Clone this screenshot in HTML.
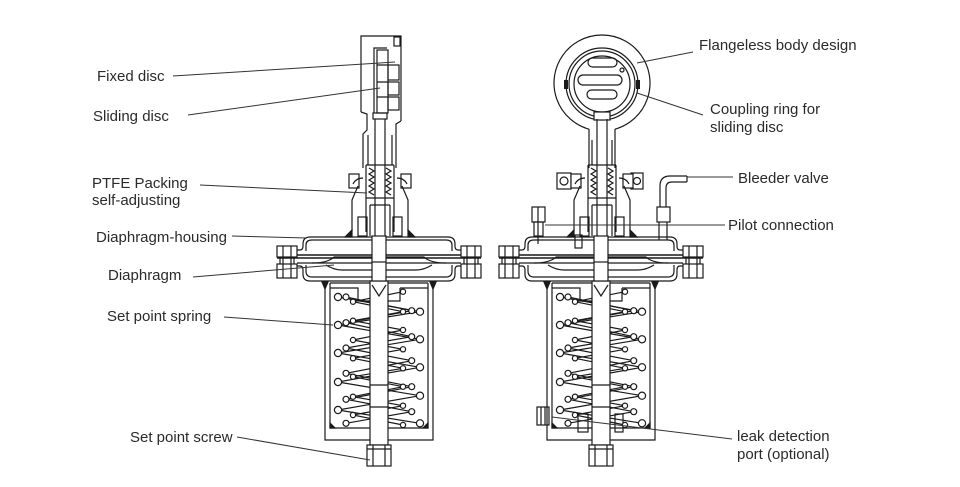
<!DOCTYPE html>
<html><head><meta charset="utf-8"><style>
html,body{margin:0;padding:0;background:#fff;}
svg{display:block;}
text{font-family:"Liberation Sans",Arial,sans-serif;font-size:15px;fill:#2a2a2a;}
</style></head><body>
<svg width="960" height="487" viewBox="0 0 960 487" xmlns="http://www.w3.org/2000/svg">
<defs>
<g id="lower" fill="none" stroke="#1a1a1a" stroke-width="1.2">
  <!-- upper dome -->
  <path d="M297,250 H300 Q303,250 303,246 V244 Q303,237 310,237 H448 Q455,237 455,244 V246 Q455,250 458,250 H461"/>
  <path d="M306,251 V245 Q306,240 312,240 H446 Q452,240 452,245 V251"/>
  <!-- flange bands -->
  <path d="M277,255 H481 M277,258 H481" stroke-width="1.5"/>
  <path d="M297,263 H461"/>
  <!-- diaphragm plate -->
  <path d="M312,263 Q328,263 334,257 H424 Q430,263 446,263"/>
  <path d="M326,265 Q334,270 342,270 H416 Q424,270 432,265"/>
  <!-- lower dome -->
  <path d="M297,266 H300 Q303,266 303,270 V274 Q303,281 310,281 H448 Q455,281 455,274 V270 Q455,266 458,266 H461"/>
  <path d="M306,265 V271 Q306,277 312,277 H446 Q452,277 452,271 V265"/>
  <!-- bolts -->
  <rect x="277" y="246" width="20" height="11" fill="#fff"/>
  <rect x="277" y="264" width="20" height="14" fill="#fff"/>
  <path d="M283,246 V278 M291,246 V278 M280,257 V264 M294,257 V264"/>
  <rect x="461" y="246" width="20" height="11" fill="#fff"/>
  <rect x="461" y="264" width="20" height="14" fill="#fff"/>
  <path d="M467,246 V278 M475,246 V278 M464,257 V264 M478,257 V264"/>
  <!-- spring housing -->
  <path d="M325,284 V440 H433 V284"/>
  <path d="M330,283 V428 H428 V283"/>
  <path d="M322,282 L328,282 L325,289 Z M430,282 L436,282 L433,289 Z" fill="#1a1a1a"/>
  <path d="M330,428 L335,428 L330,423 Z M428,428 L423,428 L428,423 Z" fill="#1a1a1a"/>
  <!-- spring seat -->
  <path d="M330,283 H370 M330,288 H358 V301 H370 M388,283 H428 M400,288 H428 M388,301 H400 V288"/>
  <!-- springs -->
  <polyline points="338,297 420,311.7 338,325 420,339.3 338,353 420,367.3 338,382 420,395.7 338,410 420,423.3"/>
  <polyline points="346,297 411.7,310.7 346,322.7 411.7,336.7 346,348 411.7,360.7 346,373.3 411.7,386.7 346,399.3 411.7,411.7 346,423.3"/>
  <polyline points="403,291.7 353,301.7 403,311.7 353,320.7 403,330 353,340 403,349.3 353,358.3 403,368.3 353,376.7 403,386.7 353,396.7 403,405.7 353,415 403,425"/>
  <g fill="#fff">
    <circle cx="338" cy="297" r="3.6"/><circle cx="338" cy="325" r="3.6"/><circle cx="338" cy="353" r="3.6"/><circle cx="338" cy="382" r="3.6"/><circle cx="338" cy="410" r="3.6"/>
    <circle cx="420" cy="311.7" r="3.6"/><circle cx="420" cy="339.3" r="3.6"/><circle cx="420" cy="367.3" r="3.6"/><circle cx="420" cy="395.7" r="3.6"/><circle cx="420" cy="423.3" r="3.6"/>
    <circle cx="346" cy="297" r="3"/><circle cx="346" cy="322.7" r="3"/><circle cx="346" cy="348" r="3"/><circle cx="346" cy="373.3" r="3"/><circle cx="346" cy="399.3" r="3"/><circle cx="346" cy="423.3" r="3"/>
    <circle cx="411.7" cy="310.7" r="3"/><circle cx="411.7" cy="336.7" r="3"/><circle cx="411.7" cy="360.7" r="3"/><circle cx="411.7" cy="386.7" r="3"/><circle cx="411.7" cy="411.7" r="3"/>
    <circle cx="353" cy="301.7" r="2.6"/><circle cx="353" cy="320.7" r="2.6"/><circle cx="353" cy="340" r="2.6"/><circle cx="353" cy="358.3" r="2.6"/><circle cx="353" cy="376.7" r="2.6"/><circle cx="353" cy="396.7" r="2.6"/><circle cx="353" cy="415" r="2.6"/>
    <circle cx="403" cy="291.7" r="2.6"/><circle cx="403" cy="311.7" r="2.6"/><circle cx="403" cy="330" r="2.6"/><circle cx="403" cy="349.3" r="2.6"/><circle cx="403" cy="368.3" r="2.6"/><circle cx="403" cy="386.7" r="2.6"/><circle cx="403" cy="405.7" r="2.6"/><circle cx="403" cy="425" r="2.6"/>
  </g>
  <!-- stem -->
  <rect x="370" y="281" width="18" height="164" fill="#fff"/>
  <path d="M372,285 L379,296 L386,285"/>
  <path d="M370,385 H388 M370,407 H388"/>
  <!-- central nut -->
  <rect x="372" y="236" width="14" height="45" fill="#fff"/>
  <path d="M372,262 H386"/>
  <!-- set screw -->
  <rect x="367" y="445" width="24" height="21" fill="#fff"/>
  <path d="M373,445 V466 M385,445 V466 M367,449 H391"/>
</g>

<g id="packing" fill="none" stroke="#1a1a1a" stroke-width="1.2">
  <path d="M375,119 V236 M385,119 V236"/>
  <rect x="349" y="174" width="10" height="14" fill="#fff"/>
  <rect x="401" y="174" width="10" height="14" fill="#fff"/>
  <path d="M353,184 Q356,178 363,178 M407,184 Q404,178 397,178"/>
  <path d="M358,186 L352,200 V231 M402,186 L408,200 V231"/>
  <path d="M345,237 L352,230 L352,237 Z M415,237 L408,230 L408,237 Z" fill="#1a1a1a"/>
  <path d="M366,165 V232 M394,165 V232 M366,165 H394 M366,198 H394"/>
  <polyline points="369,168 374,171 369,174 374,177 369,180 374,183 369,186 374,189 369,192 374,195"/>
  <polyline points="386,168 391,171 386,174 391,177 386,180 391,183 386,186 391,189 386,192 391,195"/>
  <rect x="358" y="217" width="9" height="19"/>
  <rect x="393" y="217" width="9" height="19"/>
  <path d="M370,205 H390 M370,205 V236 M390,205 V236"/>
</g>
</defs>

<rect width="960" height="487" fill="#fff"/>

<!-- LEFT DEVICE -->
<g fill="none" stroke="#1a1a1a" stroke-width="1.2">
  <path d="M361,112 V36 H401 V121"/>
  <rect x="394" y="37" width="6" height="9"/>
  <path d="M374,113 V48 H387"/>
  <rect x="377" y="50" width="11" height="63"/>
  <path d="M377,65 H388 M377,82 H388 M377,97 H388"/>
  <rect x="388" y="65" width="11" height="15"/>
  <rect x="388" y="82" width="11" height="13"/>
  <rect x="388" y="97" width="11" height="13"/>
  <path d="M361,112 L367,114 V130 L363,134 V168"/>
  <path d="M401,121 L396,124 V168"/>
  <path d="M368,135 V165 M392,135 V165"/>
  <rect x="373" y="113" width="14" height="6"/>
</g>
<use href="#packing"/>
<use href="#lower"/>

<!-- RIGHT DEVICE -->
<g fill="none" stroke="#1a1a1a" stroke-width="1.2">
  <path d="M589,129.2 A48,48 0 1 1 615,129.2"/>
  <path d="M589,129 V168 M615,129 V168"/>
  <circle cx="602" cy="84" r="36"/>
  <circle cx="602" cy="84" r="33"/>
  <circle cx="602" cy="84" r="28"/>
  <rect x="588" y="58" width="29" height="9" rx="4.5"/>
  <rect x="578" y="75" width="44" height="10" rx="5"/>
  <rect x="587" y="90" width="30" height="9" rx="4.5"/>
  <circle cx="622" cy="70" r="2"/>
  <rect x="594" y="112" width="16" height="8" fill="#fff"/>
  <path d="M592,140 V165 M612,140 V165"/>
  <rect x="557" y="173" width="14" height="16"/>
  <circle cx="564" cy="181" r="4"/>
  <rect x="631" y="173" width="12" height="16"/>
  <circle cx="637" cy="181" r="3.5"/>
  <!-- pilot fitting -->
  <rect x="532" y="207" width="13" height="15"/>
  <rect x="534" y="222" width="9" height="14"/>
  <path d="M538,207 V236 M538,236 V244"/>
  <!-- bleeder -->
  <path d="M660,207 V186 Q660,176 670,176 H687 M666,207 V188 Q666,182 672,182 H687 M687,176 V182"/>
  <rect x="657" y="207" width="13" height="15"/>
  <path d="M659,222 V240 M667,222 V240"/>
  <rect x="575" y="235" width="7" height="13"/>
  <!-- leak port -->
  <rect x="537" y="407" width="12" height="18"/>
  <path d="M541,407 V425 M545,407 V425"/>
  <rect x="578" y="414" width="10" height="18"/>
  <rect x="615" y="414" width="8" height="18"/>
</g>
<use href="#packing" transform="translate(222,0)"/>
<use href="#lower" transform="translate(222,0)"/>
<rect x="564" y="80" width="4" height="9" fill="#1a1a1a"/>
<rect x="636" y="80" width="4" height="9" fill="#1a1a1a"/>

<!-- LEADERS -->
<g stroke="#333" stroke-width="1" fill="none">
  <path d="M173,76 L395,62"/>
  <path d="M188,115 L380,88"/>
  <path d="M200,185 L367,193"/>
  <path d="M232,236 L307,238"/>
  <path d="M193,277 L334,265"/>
  <path d="M224,317 L333,325"/>
  <path d="M237,437 L370,460"/>
  <path d="M693,52 L637,63"/>
  <path d="M703,115 L637,93"/>
  <path d="M687,177 L733,177"/>
  <path d="M545,225 L725,225"/>
  <path d="M552,417 L732,439"/>
</g>

<!-- LABELS -->
<text x="97" y="81">Fixed disc</text>
<text x="93" y="121">Sliding disc</text>
<text x="92" y="188">PTFE Packing</text>
<text x="92" y="205">self-adjusting</text>
<text x="96" y="242">Diaphragm-housing</text>
<text x="108" y="280">Diaphragm</text>
<text x="107" y="321">Set point spring</text>
<text x="130" y="442">Set point screw</text>
<text x="699" y="50">Flangeless body design</text>
<text x="710" y="114">Coupling ring for</text>
<text x="710" y="132">sliding disc</text>
<text x="738" y="183">Bleeder valve</text>
<text x="728" y="230">Pilot connection</text>
<text x="737" y="441">leak detection</text>
<text x="737" y="459">port (optional)</text>
</svg>
</body></html>
